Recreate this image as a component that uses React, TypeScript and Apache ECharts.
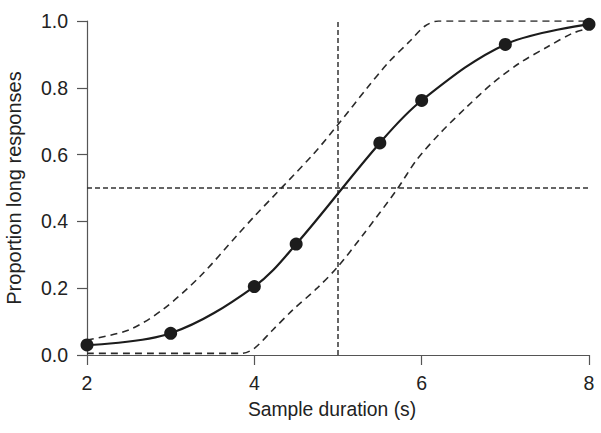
import React, { useEffect, useRef } from "react";
import * as echarts from "echarts";

const obsX = [2, 3, 4, 4.5, 5.5, 6, 7, 8];
const obsY = [0.03, 0.065, 0.205, 0.332, 0.635, 0.762, 0.93, 0.99];

const upperX = [2, 2.5, 2.9, 3.35, 3.8, 4.0, 4.7, 5.0, 5.35, 5.6, 5.86, 6.04, 6.2, 8];
const upperY = [0.045, 0.075, 0.135, 0.235, 0.36, 0.415, 0.6, 0.69, 0.8, 0.875, 0.94, 0.985, 1.0, 1.0];

const lowerX = [2, 3.85, 4.0, 4.22, 4.46, 4.75, 5.0, 5.3, 5.7, 5.94, 6.22, 6.54, 6.85, 7.17, 7.5, 7.8, 8];
const lowerY = [0.005, 0.005, 0.02, 0.075, 0.135, 0.2, 0.265, 0.36, 0.494, 0.584, 0.664, 0.743, 0.814, 0.874, 0.922, 0.963, 0.978];

const xTicks = [2, 4, 6, 8];
const yTicks = [0, 0.2, 0.4, 0.6, 0.8, 1.0];

const refX = 5;
const refY = 0.5;

const xName = "Sample duration (s)";
const yName = "Proportion long responses";

const zip = (xs: number[], ys: number[]) => xs.map((x, i) => [x, ys[i]]);

export default function App() {
  const ref = useRef<HTMLDivElement>(null);
  useEffect(() => {
    if (!ref.current) return;
    const chart = echarts.init(ref.current, null, { renderer: "svg" });
    const font = "Liberation Sans, Arial, Helvetica, sans-serif";
    const ink = "#1c1c1c";
    chart.setOption({
      animation: false,
      backgroundColor: "#ffffff",
      grid: { left: 87, right: 12, top: 21, bottom: 78, containLabel: false, outerBoundsMode: "none" },
      xAxis: {
        type: "value",
        min: xTicks[0],
        max: xTicks[xTicks.length - 1],
        interval: 2,
        name: xName,
        nameLocation: "middle",
        nameGap: 45,
        nameTextStyle: { color: "#222", fontSize: 19.3, fontFamily: font, padding: [0, 12, 0, 0] },
        axisLine: { show: true, onZero: false, lineStyle: { color: "#555", width: 1.2 } },
        axisTick: { show: true, inside: false, length: 10, lineStyle: { color: "#555", width: 1.2 } },
        axisLabel: { color: "#222", fontSize: 19.5, fontFamily: font, margin: 18 },
        splitLine: { show: false },
      },
      yAxis: {
        type: "value",
        min: yTicks[0],
        max: yTicks[yTicks.length - 1],
        interval: 0.2,
        name: yName,
        nameLocation: "middle",
        nameGap: 63,
        nameRotate: 90,
        nameTextStyle: { color: "#222", fontSize: 20, fontFamily: font },
        axisLine: { show: true, onZero: false, lineStyle: { color: "#555", width: 1.2 } },
        axisTick: { show: true, inside: false, length: 10, lineStyle: { color: "#555", width: 1.2 } },
        axisLabel: {
          color: "#222",
          fontSize: 19.5,
          fontFamily: font,
          margin: 19,
          formatter: (v: number) => v.toFixed(1),
        },
        splitLine: { show: false },
      },
      series: [
        {
          type: "line",
          data: [[refX, yTicks[0]], [refX, yTicks[yTicks.length - 1]]],
          showSymbol: false,
          symbol: "none",
          lineStyle: { color: "#333", width: 1.5, type: [5, 3] },
          z: 1,
        },
        {
          type: "line",
          data: [[xTicks[0], refY], [xTicks[xTicks.length - 1], refY]],
          showSymbol: false,
          symbol: "none",
          lineStyle: { color: "#333", width: 1.5, type: [5, 3] },
          z: 1,
        },
        {
          type: "line",
          data: zip(upperX, upperY),
          smooth: 0.3,
          symbol: "none",
          lineStyle: { color: "#2a2a2a", width: 1.6, type: [7, 5] },
          z: 2,
        },
        {
          type: "line",
          data: zip(lowerX, lowerY),
          smooth: 0.3,
          symbol: "none",
          lineStyle: { color: "#2a2a2a", width: 1.6, type: [7, 5] },
          z: 2,
        },
        {
          type: "line",
          data: zip(obsX, obsY),
          smooth: 0.35,
          symbol: "circle",
          symbolSize: 13,
          itemStyle: { color: ink, borderWidth: 0 },
          lineStyle: { color: ink, width: 2.2 },
          z: 3,
        },
      ],
    });
    return () => chart.dispose();
  }, []);
  return (
    <div
      ref={ref}
      style={{ position: "fixed", left: 0, top: 0, width: 601, height: 433, background: "#fff" }}
    />
  );
}
